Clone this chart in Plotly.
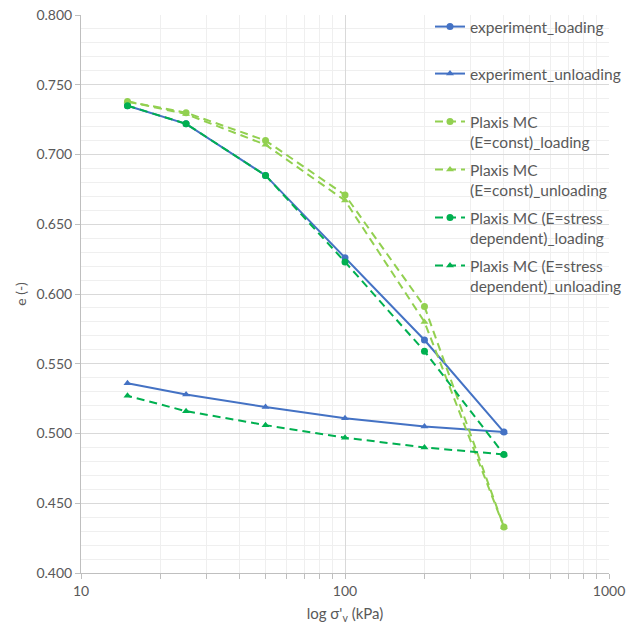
import plotly.graph_objects as go

x_load = [15, 25, 50, 100, 200, 400]
x_unload = [400, 200, 100, 50, 25, 15]

exp_loading = [0.735, 0.722, 0.685, 0.626, 0.567, 0.501]
exp_unloading = [0.501, 0.505, 0.511, 0.519, 0.528, 0.536]
mc_const_loading = [0.738, 0.730, 0.710, 0.671, 0.591, 0.433]
mc_const_unloading = [0.433, 0.580, 0.667, 0.707, 0.729, 0.738]
mc_sd_loading = [0.735, 0.722, 0.685, 0.623, 0.559, 0.485]
mc_sd_unloading = [0.485, 0.490, 0.497, 0.506, 0.516, 0.527]

names = [
    "experiment_loading",
    "experiment_unloading",
    "Plaxis MC<br>(E=const)_loading",
    "Plaxis MC<br>(E=const)_unloading",
    "Plaxis MC (E=stress<br>dependent)_loading",
    "Plaxis MC (E=stress<br>dependent)_unloading",
]

BLUE = "#4472C4"
LGREEN = "#92D050"
GREEN = "#00B050"
DASH = "8px,5px"

series = [
    (x_load, exp_loading, BLUE, "solid", "circle"),
    (x_unload, exp_unloading, BLUE, "solid", "triangle-up"),
    (x_load, mc_const_loading, LGREEN, DASH, "circle"),
    (x_unload, mc_const_unloading, LGREEN, DASH, "triangle-up"),
    (x_load, mc_sd_loading, GREEN, DASH, "circle"),
    (x_unload, mc_sd_unloading, GREEN, DASH, "triangle-up"),
]

FONT = "Lato"
GRAY = "#595959"
W, H = 626, 627

# first-line centre of each legend entry (pixels from top)
legend_line_y = [27, 74, 122, 170, 218, 266]
LEG_X = 430

fig = go.Figure()
legends = {}
for i, (xs, ys, col, dash, sym) in enumerate(series):
    lid = "legend" if i == 0 else f"legend{i + 1}"
    fig.add_trace(go.Scatter(
        x=xs, y=ys, name=names[i], mode="lines+markers",
        legend=lid,
        line=dict(color=col, width=2, dash=dash),
        marker=dict(color=col, size=7, symbol=sym),
    ))
    top = legend_line_y[i] - 17
    legends[lid] = dict(
        xref="container", yref="container",
        x=LEG_X / W, y=1 - top / H, xanchor="left", yanchor="top",
        bgcolor="rgba(0,0,0,0)", borderwidth=0, valign="top",
        font=dict(family=FONT, size=15.5, color=GRAY),
    )

fig.update_layout(
    width=W, height=H,
    margin=dict(l=81, r=17, t=15, b=54, autoexpand=False),
    plot_bgcolor="white", paper_bgcolor="white",
    font=dict(family=FONT, size=13, color=GRAY),
    showlegend=True,
    **legends,
    xaxis=dict(
        type="log", range=[1, 3],
        tickvals=[10, 100, 1000], ticktext=["10", "100", "1000"],
        showgrid=True, gridcolor="#d9d9d9", gridwidth=1,
        showline=True, linecolor="#bfbfbf", linewidth=1,
        ticks="outside", ticklen=5, tickcolor="#bfbfbf",
        minor=dict(showgrid=True, gridcolor="#efefef", ticks="outside",
                   ticklen=5, tickcolor="#bfbfbf", dtick="D1"),
        title=dict(text="log σ'<sub>v</sub> (kPa)", font=dict(size=15, color=GRAY), standoff=10),
        tickfont=dict(size=14, color=GRAY),
        zeroline=False, automargin=False,
    ),
    yaxis=dict(
        range=[0.4, 0.8], dtick=0.05, tick0=0.4, tickformat=".3f",
        showgrid=True, gridcolor="#d9d9d9", gridwidth=1,
        showline=True, linecolor="#bfbfbf", linewidth=1,
        ticks="outside", ticklen=5, tickcolor="#bfbfbf",
        minor=dict(showgrid=True, gridcolor="#efefef", dtick=0.01),
        title=dict(text="e (-)", font=dict(size=14, color=GRAY), standoff=6),
        tickfont=dict(size=14, color=GRAY),
        zeroline=False, automargin=False,
    ),
)

fig.write_html("out.html")
